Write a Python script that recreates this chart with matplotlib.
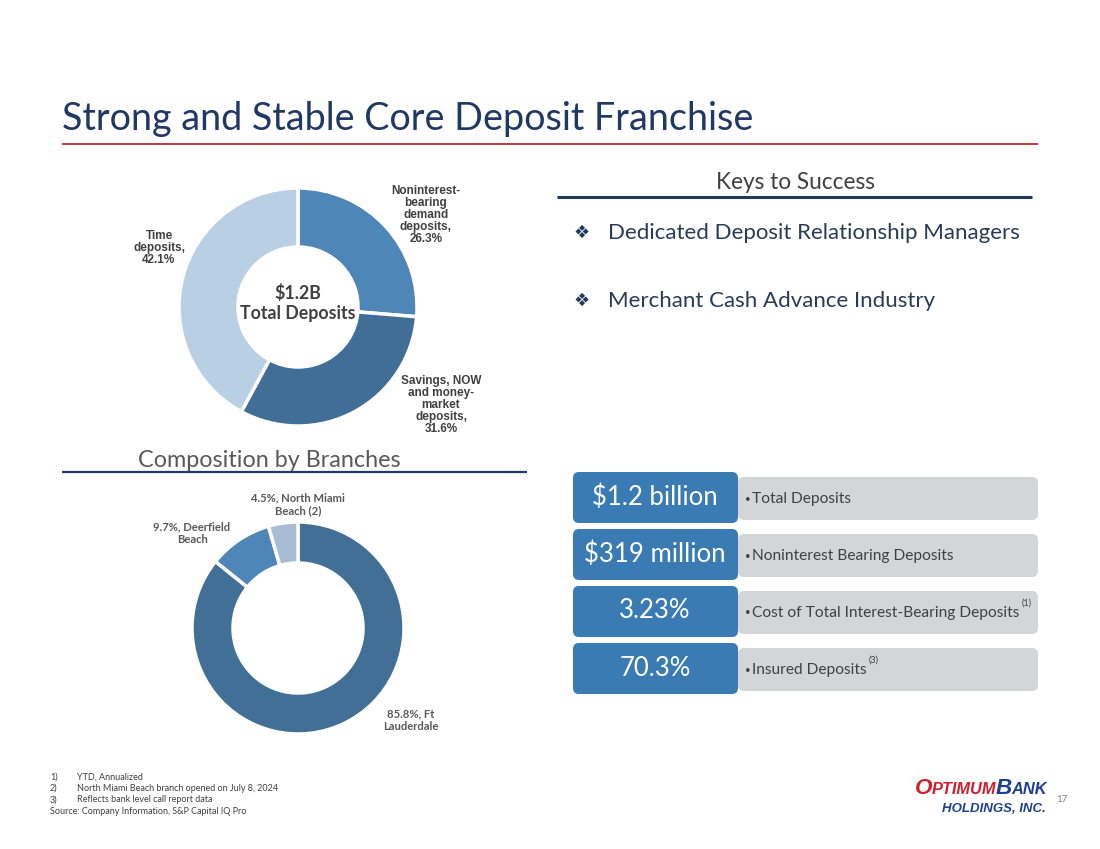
import matplotlib
matplotlib.use("Agg")
import matplotlib.pyplot as plt
from matplotlib import font_manager as fm
from matplotlib.patches import FancyBboxPatch

# ---------------- data ----------------
deposit_labels = ["Noninterest-\nbearing\ndemand\ndeposits,\n26.3%",
                  "Savings, NOW\nand money-\nmarket\ndeposits,\n31.6%",
                  "Time\ndeposits,\n42.1%"]
deposit_values = [26.3, 31.6, 42.1]

branch_labels = ["85.8%, Ft\nLauderdale", "9.7%, Deerfield\nBeach", "4.5%, North Miami\nBeach (2)"]
branch_values = [85.8, 9.7, 4.5]

key_points = ["Dedicated Deposit Relationship Managers", "Merchant Cash Advance Industry"]

stat_values = ["$1.2 billion", "$319 million", "3.23%", "70.3%"]
stat_labels = ["Total Deposits", "Noninterest Bearing Deposits",
               "Cost of Total Interest-Bearing Deposits", "Insured Deposits"]
stat_notes = ["", "", "(1)", "(3)"]

footnotes = [("1)", "YTD, Annualized"),
             ("2)", "North Miami Beach branch opened on July 8, 2024"),
             ("3)", "Reflects bank level call report data")]
source = "Source: Company Information, S&P Capital IQ Pro"

# ---------------- fonts ----------------
def has_bold(name):
    for f in fm.fontManager.ttflist:
        if f.name == name and isinstance(f.weight, int) and f.weight >= 600 and f.style == "normal":
            return True
        if f.name == name and f.weight in ("bold", "semibold", "demibold", "heavy", "black") and f.style == "normal":
            return True
    return False

BOLD_NAME = next((n for n in ["Lato", "Open Sans", "Roboto", "Noto Sans", "Liberation Sans"]
                  if has_bold(n)), "DejaVu Sans")
FONT = ["Lato", "DejaVu Sans"]
BOLDFONT = [BOLD_NAME, "DejaVu Sans"]
NAVY = "#1f3a5f"
DARK = "#404040"

# ---------------- figure ----------------
W, H = 1100, 849
fig = plt.figure(figsize=(W / 100, H / 100), dpi=100)
fig.patch.set_facecolor("white")

bg = fig.add_axes([0, 0, 1, 1])
bg.set_xlim(0, W)
bg.set_ylim(H, 0)
bg.axis("off")
renderer = fig.canvas.get_renderer()


def text_width(t):
    bb = t.get_window_extent(renderer=renderer)
    return bb.x1 - bb.x0


def text_end_x(t):
    bb = t.get_window_extent(renderer=renderer)
    return bg.transData.inverted().transform((bb.x1, bb.y0))[0]


def fit_width(t, target):
    for _ in range(3):
        w = text_width(t)
        if w > 0:
            t.set_fontsize(t.get_fontsize() * target / w)


# title
bg.text(62, 130, "Strong and Stable Core Deposit Franchise", fontsize=27.2, color="#1f3864",
        family=FONT, va="baseline", ha="left")
bg.plot([62, 1038], [144, 144], color="#c0262d", lw=1.3, solid_capstyle="butt")

# Keys to success
bg.text(795, 182, "Keys to Success", fontsize=16.3, color=DARK, family=FONT, ha="center", va="center")
bg.plot([557, 1032], [197, 197], color="#1f3a5f", lw=2.2, solid_capstyle="butt")
for i, kp in enumerate(key_points):
    y = 233 + i * 68
    bg.text(582, y, "\u2756", fontsize=13, color=NAVY, family=["DejaVu Sans"], ha="center", va="center")
    bg.text(608, y, kp, fontsize=16.0, color="#2a3b55", family=FONT,
            ha="left", va="center")

# Composition by branches
bg.text(269, 460, "Composition by Branches", fontsize=16.8, color="#595959", family=FONT,
        ha="center", va="center")
bg.plot([62, 527], [472, 472], color="#1f3a5f", lw=1.6, solid_capstyle="butt")

# stat boxes
blue_tops = [472, 529, 586, 643]
for i in range(4):
    t = blue_tops[i]
    gray = FancyBboxPatch((738, t + 5), 300, 43, boxstyle="round,pad=0,rounding_size=6",
                          fc="#d4d5d7", ec="none")
    bg.add_patch(gray)
    blue = FancyBboxPatch((573, t), 165, 51, boxstyle="round,pad=0,rounding_size=6",
                          fc="#3b7bb4", ec="none")
    bg.add_patch(blue)
    bg.text(655, t + 25, stat_values[i], fontsize=18.5, color="white", family=FONT,
            ha="center", va="center")
    bg.text(745, t + 27, "\u2022", fontsize=7, color=DARK, family=FONT, ha="left", va="center")
    lbl = bg.text(752, t + 27, stat_labels[i], fontsize=11.2, color=DARK, family=FONT,
                  ha="left", va="center")
    if stat_notes[i]:
        x_end = text_end_x(lbl) + 2
        bg.text(x_end, t + 17, stat_notes[i], fontsize=6.5, color=DARK, family=FONT,
                ha="left", va="center")

# footnotes
for i, (n, txt) in enumerate(footnotes):
    y = 777 + i * 11.3
    bg.text(50, y, n, fontsize=6.5, color=DARK, family=FONT, ha="left", va="center")
    bg.text(77, y, txt, fontsize=6.5, color=DARK, family=FONT, ha="left", va="center")
bg.text(50, 811, source, fontsize=6.5, color=DARK, family=FONT, ha="left", va="center")

# logo
LOGO_FONT = ["Liberation Sans", "DejaVu Sans"]
x = 915
for s, fs, col in [("O", 16.2, "#d0202e"), ("PTIMUM", 11.8, "#d0202e"),
                   ("B", 16.2, "#1f3f8f"), ("ANK", 11.8, "#1f3f8f")]:
    tt = bg.text(x, 794, s, fontsize=fs, color=col, family=LOGO_FONT, fontweight="bold",
                 style="italic", ha="left", va="baseline")
    x = text_end_x(tt) - 0.5
hold = bg.text(1046, 812, "HOLDINGS, INC.", fontsize=10, color="#1f3f8f", family=LOGO_FONT,
               fontweight="bold", style="italic", ha="right", va="baseline")
fit_width(hold, 103)
bg.text(1062, 800, "17", fontsize=7, color="#7f7f7f", family=FONT, ha="center", va="center")

# ---------------- donuts ----------------
def donut_axes(cx, cy, half=130):
    ax = fig.add_axes([(cx - half) / W, 1 - (cy + half) / H, 2 * half / W, 2 * half / H])
    ax.axis("off")
    return ax

ax1 = donut_axes(298, 307)
ax1.pie(deposit_values, colors=["#4f86b8", "#416e96", "#b9cfe4"], startangle=90, counterclock=False,
        radius=1.19, wedgeprops=dict(width=0.59, edgecolor="white", linewidth=2.5))
ax1.set_xlim(-1.3, 1.3)
ax1.set_ylim(-1.3, 1.3)
ctr = bg.text(298, 303, "$1.2B\nTotal Deposits", fontsize=11.5, fontweight="bold", color=DARK,
              family=BOLDFONT, ha="center", va="center", linespacing=1.25, zorder=6)
fit_width(ctr, 115)

lbl_pos_top = [(426, 215), (441, 405), (159, 248)]
for lab, (x, y) in zip(deposit_labels, lbl_pos_top):
    bg.text(x, y, lab, fontsize=8.5, fontweight="bold", color=DARK, family=["Liberation Sans"],
            ha="center", va="center", linespacing=1.0, zorder=5)

ax2 = donut_axes(298, 628)
ax2.pie(branch_values, colors=["#426f96", "#4f86b8", "#a8bdd5"], startangle=90, counterclock=False,
        radius=1.06, wedgeprops=dict(width=0.41, edgecolor="white", linewidth=2.5))
ax2.set_xlim(-1.3, 1.3)
ax2.set_ylim(-1.3, 1.3)

lbl_pos_bot = [(411, 720), (192, 533), (298, 504)]
bot_texts = []
for lab, (x, y) in zip(branch_labels, lbl_pos_bot):
    bot_texts.append(bg.text(x, y, lab, fontsize=7.3, fontweight="bold", color="#595959",
                             family=BOLDFONT, ha="center", va="center", linespacing=1.25, zorder=5))
fit_width(bot_texts[2], 95)
for t in bot_texts[:2]:
    t.set_fontsize(bot_texts[2].get_fontsize())

fig.savefig("out.png", dpi=100, facecolor="white")
